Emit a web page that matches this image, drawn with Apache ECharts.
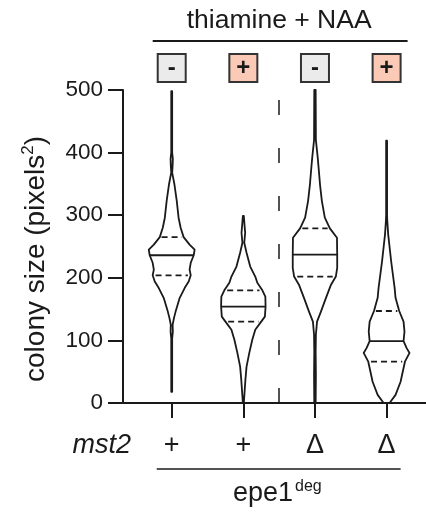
<!DOCTYPE html>
<html><head><meta charset="utf-8">
<script src="https://cdn.jsdelivr.net/npm/echarts@6/dist/echarts.min.js"></script>
<style>html,body{margin:0;padding:0;background:#fff}#c{width:426px;height:513px}</style>
</head><body><div id="c"></div>
<script>
// ---- data ----
const positions = [1, 2, 3, 4];
const mst2Labels = ['+', '+', 'Δ', 'Δ'];
const thiamineNAA = ['-', '+', '-', '+'];
const yTicks = [0, 100, 200, 300, 400, 500];
const medians = [236, 154, 237, 99];
const quartile1 = [204, 130, 202, 66];
const quartile3 = [265, 180, 279, 147];
// density profiles: [colony size, relative half-width], from top to bottom
const violin1 = [[498,0.02],[400,0.02],[390,0.05],[380,0.04],[368,0.02],[349,0.12],[323,0.22],[296,0.30],[280,0.39],[265,0.52],[253,0.78],[245,1.0],[236,0.96],[224,0.83],[213,0.78],[204,0.83],[194,0.74],[184,0.57],[168,0.35],[146,0.17],[136,0.10],[125,0.04],[114,0.05],[103,0.02],[18,0.02]];
const violin2 = [[299,0.02],[285,0.05],[272,0.08],[256,0.04],[240,0.14],[218,0.30],[202,0.52],[192,0.61],[180,0.83],[170,0.96],[154,0.97],[138,0.94],[130,0.78],[117,0.52],[101,0.39],[80,0.26],[58,0.14],[37,0.09],[21,0.06],[5,0.03],[0,0.02]];
const violin3 = [[500,0.03],[420,0.04],[392,0.12],[371,0.17],[349,0.22],[323,0.30],[296,0.43],[279,0.65],[264,0.96],[237,0.97],[216,0.97],[202,0.91],[189,0.70],[168,0.48],[146,0.26],[130,0.09],[109,0.04],[82,0.03],[45,0.04],[0,0.03]];
const violin4 = [[419,0.02],[300,0.02],[291,0.03],[269,0.07],[226,0.20],[184,0.35],[168,0.39],[147,0.55],[130,0.74],[114,0.78],[99,0.74],[88,0.87],[80,1.0],[66,0.80],[56,0.74],[34,0.61],[13,0.39],[2,0.17],[0,0.13]];
const profiles = [violin1, violin2, violin3, violin4];

// ---- style ----
const MAXW = 0.32;
const FONT = 'Liberation Sans, Arial, sans-serif';
const INK = '#1a1a1a';

function widthAt(prof, v) {
  for (let i = 0; i < prof.length - 1; i++) {
    const a = prof[i], b = prof[i + 1];
    if (v <= a[0] && v >= b[0]) {
      const t = (a[0] - v) / (a[0] - b[0] || 1);
      return a[1] + (b[1] - a[1]) * t;
    }
  }
  return 0;
}

const chart = echarts.init(document.getElementById('c'), null, {renderer: 'canvas'});

function renderItem(params, api) {
  const i = params.dataIndex;
  const pos = api.value(0);
  const prof = profiles[i];
  const pts = [];
  prof.forEach(p => pts.push(api.coord([pos + p[1] * MAXW, p[0]])));
  for (let k = prof.length - 1; k >= 0; k--) pts.push(api.coord([pos - prof[k][1] * MAXW, prof[k][0]]));
  const children = [{
    type: 'polygon', shape: {points: pts},
    style: {fill: 'none', stroke: INK, lineWidth: 1.8, lineJoin: 'round'}
  }];
  const hl = (v, dash, f) => {
    const w = widthAt(prof, v) * MAXW * f;
    const a = api.coord([pos - w, v]), b = api.coord([pos + w, v]);
    children.push({type: 'line', shape: {x1: a[0], y1: a[1], x2: b[0], y2: b[1]},
      style: {stroke: INK, lineWidth: 1.8, lineDash: dash}});
  };
  hl(medians[i], null, 1);
  hl(quartile1[i], [6, 4], 0.85);
  hl(quartile3[i], [6, 4], 0.85);
  return {type: 'group', children};
}

chart.setOption({
  animation: false,
  backgroundColor: '#fff',
  grid: {left: 123, right: 0, top: 90, bottom: 110},
  xAxis: {
    type: 'value', min: 0.32, max: 4.55,
    splitLine: {show: false},
    axisLine: {show: true, lineStyle: {color: INK, width: 2}},
    axisTick: {show: true, customValues: positions, length: 15, lineStyle: {color: INK, width: 2}},
    axisLabel: {show: true, customValues: positions, margin: 29, fontSize: 27, fontFamily: FONT, color: INK,
      formatter: v => mst2Labels[positions.indexOf(Math.round(v))] || ''}
  },
  yAxis: {
    type: 'value', min: yTicks[0], max: yTicks[yTicks.length - 1], interval: 100,
    splitLine: {show: false},
    axisLine: {show: true, lineStyle: {color: INK, width: 2}},
    axisTick: {show: true, length: 15, lineStyle: {color: INK, width: 2}},
    axisLabel: {margin: 20, fontSize: 22.5, fontFamily: FONT, color: INK}
  },
  series: [{
    type: 'custom',
    renderItem,
    data: positions.map(p => [p]),
    encode: {x: 0},
    silent: true,
    markLine: {
      silent: true, symbol: 'none', label: {show: false},
      lineStyle: {color: INK, width: 1.5, type: [15, 33]},
      data: [{xAxis: 2.5}]
    }
  }]
});

// ---- annotations positioned from the axis scale ----
const px = positions.map(p => chart.convertToPixel({xAxisIndex: 0, yAxisIndex: 0}, [p, 0])[0]);
const mid = chart.convertToPixel({xAxisIndex: 0, yAxisIndex: 0}, [2.5, 0])[0];
const graphics = [];
thiamineNAA.forEach((s, i) => {
  graphics.push({type: 'rect', shape: {x: px[i] - 14, y: 54, width: 28, height: 28},
    style: {fill: s === '+' ? '#fbcab6' : '#ebebeb', stroke: '#333', lineWidth: 2}});
  graphics.push({type: 'text', x: px[i], y: 68,
    style: {text: s, font: 'bold 24px ' + FONT, fill: INK, align: 'center', verticalAlign: 'middle'}});
});
graphics.push({type: 'text', x: mid, y: 21,
  style: {text: 'thiamine + NAA', font: '26.5px ' + FONT, fill: INK, align: 'center', verticalAlign: 'middle'}});
graphics.push({type: 'line', shape: {x1: px[0] - 19, y1: 41, x2: px[3] + 21, y2: 41}, style: {stroke: INK, lineWidth: 2}});
graphics.push({type: 'text', x: 35, y: 259, rotation: Math.PI / 2,
  style: {
    text: '{a|colony size (pixels}{s|2}{a|)}',
    rich: {
      a: {fontSize: 28, fontFamily: FONT, fill: INK, verticalAlign: 'bottom', lineHeight: 30},
      s: {fontSize: 17, fontFamily: FONT, fill: INK, verticalAlign: 'top', lineHeight: 30}
    },
    align: 'center', verticalAlign: 'middle'
  }});
graphics.push({type: 'text', x: 131, y: 445,
  style: {text: 'mst2', font: 'italic 27px ' + FONT, fill: INK, align: 'right', verticalAlign: 'middle'}});
graphics.push({type: 'line', shape: {x1: px[0] - 15, y1: 469, x2: px[3] + 14, y2: 469}, style: {stroke: INK, lineWidth: 1.5}});
graphics.push({type: 'text', x: 293, y: 494,
  style: {text: 'epe1', font: '27px ' + FONT, fill: INK, align: 'right', verticalAlign: 'middle'}});
graphics.push({type: 'text', x: 295, y: 487,
  style: {text: 'deg', font: '16px ' + FONT, fill: INK, align: 'left', verticalAlign: 'middle'}});
chart.setOption({graphic: graphics});
</script></body></html>
